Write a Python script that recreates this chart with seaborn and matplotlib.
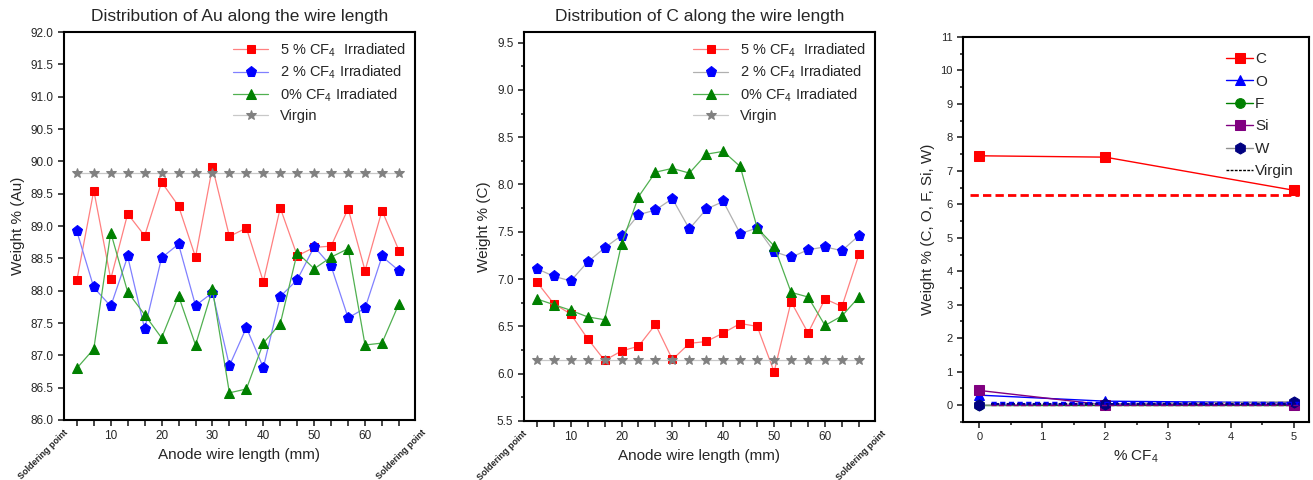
import numpy as np
import matplotlib
matplotlib.use("Agg")
import matplotlib.pyplot as plt
import seaborn as sns
from matplotlib.lines import Line2D
from matplotlib.ticker import MultipleLocator

# positions along the wire (mm)
length_mm = [3.33, 6.67, 10, 13.33, 16.67, 20, 23.33, 26.67, 30, 33.33,
             36.67, 40, 43.33, 46.67, 50, 53.33, 56.67, 60, 63.33, 66.67]

# Au weight %
au_5 = [88.16, 89.55, 88.18, 89.19, 88.85, 89.68, 89.31, 88.52, 89.91, 88.84,
        88.97, 88.14, 89.28, 88.54, 88.67, 88.69, 89.27, 88.31, 89.24, 88.62]
au_2 = [88.92, 88.05, 87.76, 88.53, 87.41, 88.51, 88.72, 87.77, 87.97, 86.84,
        87.43, 86.81, 87.91, 88.17, 88.68, 88.38, 87.58, 87.73, 88.53, 88.31]
au_0 = [86.80, 87.10, 88.90, 87.98, 87.63, 87.27, 87.92, 87.16, 88.02, 86.42,
        86.48, 87.19, 87.49, 88.59, 88.34, 88.52, 88.65, 87.16, 87.19, 87.80]
au_virgin = [89.82] * 20

# C weight %
c_5 = [6.97, 6.74, 6.63, 6.37, 6.14, 6.24, 6.29, 6.52, 6.15, 6.32,
       6.34, 6.43, 6.53, 6.50, 6.02, 6.76, 6.43, 6.79, 6.71, 7.26]
c_2 = [7.11, 7.03, 6.98, 7.18, 7.33, 7.46, 7.68, 7.73, 7.85, 7.53,
       7.74, 7.82, 7.48, 7.54, 7.29, 7.23, 7.31, 7.34, 7.30, 7.46]
c_0 = [6.79, 6.73, 6.67, 6.60, 6.57, 7.37, 7.87, 8.13, 8.17, 8.12,
       8.32, 8.35, 8.19, 7.54, 7.35, 6.86, 6.81, 6.51, 6.61, 6.81]
c_virgin = [6.14] * 20

# element weight % vs CF4 content
cf4 = [0, 2, 5]
el_C = [7.45, 7.41, 6.42]
el_O = [0.30, 0.12, 0.07]
el_F = [0.0, 0.0, 0.0]
el_Si = [0.44, 0.01, 0.02]
el_W = [0.0, 0.04, 0.10]
virgin_C = 6.27
virgin_O = 0.07
virgin_W = 0.05

sns.set_style("ticks")
plt.rcParams['font.family'] = ['Liberation Sans', 'DejaVu Sans']
plt.rcParams['mathtext.fontset'] = 'custom'
plt.rcParams['mathtext.rm'] = 'Liberation Sans'

fig = plt.figure(figsize=(13.13, 4.8), dpi=100)
ax1 = fig.add_axes([0.0487, 0.125, 0.2673, 0.808])
ax2 = fig.add_axes([0.399, 0.123, 0.2673, 0.810])
ax3 = fig.add_axes([0.7334, 0.121, 0.2635, 0.802])


def style_axis(ax, lsize=8.5):
    for s in ax.spines.values():
        s.set_linewidth(1.5)
        s.set_color('black')
    ax.tick_params(axis='both', direction='out', width=1.2, length=4,
                   labelsize=lsize, top=False, right=False)
    ax.tick_params(which='minor', direction='out', width=1.2, length=2.5)


def wire_panel(ax, s5, s2, s0, sv, line2, ylabel, title):
    sns.lineplot(x=length_mm, y=s5, ax=ax, color='#ff8080', lw=0.9, marker='s',
                 markersize=6, markerfacecolor='red', markeredgecolor='red',
                 label='5 % CF$_4$  Irradiated')
    sns.lineplot(x=length_mm, y=s2, ax=ax, color=line2, lw=0.9, marker='p',
                 markersize=8, markerfacecolor='blue', markeredgecolor='blue',
                 label='2 % CF$_4$ Irradiated')
    sns.lineplot(x=length_mm, y=s0, ax=ax, color='#50b050', lw=0.9, marker='^',
                 markersize=7, markerfacecolor='green', markeredgecolor='green',
                 label='0% CF$_4$ Irradiated')
    sns.lineplot(x=length_mm, y=sv, ax=ax, color='#c8c8c8', lw=0.9, marker='*',
                 markersize=7, markerfacecolor='gray', markeredgecolor='gray',
                 label='Virgin')
    ax.set_xlim(0.8, 69.8)
    ax.set_xticks(length_mm)
    lbls = []
    for x in length_mm:
        lbls.append(str(int(round(x))) if abs(x - round(x)) < 0.01 and round(x) % 10 == 0 else "")
    ax.set_xticklabels(lbls)
    ax.set_xlabel('Anode wire length (mm)', fontsize=11)
    ax.set_ylabel(ylabel, fontsize=11)
    ax.set_title(title, fontsize=12.5, pad=8)
    for xp in [0.6, 71]:
        ax.text(xp, -0.02, 'Soldering point', transform=ax.get_xaxis_transform(),
                rotation=45, ha='right', va='top', fontsize=6.5, fontweight='bold',
                rotation_mode='anchor')
    ax.legend(loc='upper right', frameon=False, fontsize=10.5, handlelength=2.4,
              borderaxespad=0.2, labelspacing=0.35)
    style_axis(ax)


wire_panel(ax1, au_5, au_2, au_0, au_virgin, '#8080ff', 'Weight % (Au)',
           'Distribution of Au along the wire length')
ax1.set_ylim(86, 92)
ax1.yaxis.set_major_locator(MultipleLocator(0.5))
ax1.yaxis.set_major_formatter(matplotlib.ticker.FormatStrFormatter('%.1f'))

wire_panel(ax2, c_5, c_2, c_0, c_virgin, '#b0b0b0', 'Weight % (C)',
           'Distribution of C along the wire length')
ax2.set_ylim(5.5, 9.61)
ax2.yaxis.set_major_locator(MultipleLocator(0.5))
ax2.yaxis.set_minor_locator(MultipleLocator(0.25))
ax2.yaxis.set_major_formatter(matplotlib.ticker.FormatStrFormatter('%.1f'))

# right panel
sns.lineplot(x=cf4, y=el_C, ax=ax3, color='red', lw=1, marker='s', markersize=7,
             markerfacecolor='red', markeredgecolor='red', label='C')
sns.lineplot(x=cf4, y=el_O, ax=ax3, color='blue', lw=1, marker='^', markersize=7,
             markerfacecolor='blue', markeredgecolor='blue', label='O')
sns.lineplot(x=cf4, y=el_F, ax=ax3, color='green', lw=1, marker='o', markersize=7,
             markerfacecolor='green', markeredgecolor='green', label='F')
sns.lineplot(x=cf4, y=el_Si, ax=ax3, color='purple', lw=1, marker='s', markersize=7,
             markerfacecolor='purple', markeredgecolor='purple', label='Si')
sns.lineplot(x=cf4, y=el_W, ax=ax3, color='#909090', lw=1, marker='h', markersize=8,
             markerfacecolor='navy', markeredgecolor='navy', label='W')
ax3.axhline(virgin_C, xmin=0.02, xmax=0.97, color='red', ls=(0, (3, 1.5)), lw=2)
ax3.axhline(virgin_O, xmin=0.08, xmax=0.97, color='blue', ls=(0, (1.5, 1)), lw=2.5)
ax3.axhline(virgin_W, xmin=0.08, xmax=0.97, color='navy', ls=(0, (1.5, 1)), lw=1.5)
ax3.axhline(0, xmin=0.08, xmax=0.97, color='purple', ls='--', lw=1)

handles, labels = ax3.get_legend_handles_labels()
handles.append(Line2D([], [], color='black', ls=(0, (2, 1)), lw=1))
labels.append('Virgin')
ax3.legend(handles, labels, loc='upper right', frameon=False, fontsize=11,
           handlelength=1.8, handletextpad=0.1, labelspacing=0.55,
           borderaxespad=0.6)
ax3.set_xlim(-0.26, 5.24)
ax3.set_ylim(-0.5, 11)
ax3.xaxis.set_major_locator(MultipleLocator(1))
ax3.xaxis.set_minor_locator(MultipleLocator(0.5))
ax3.yaxis.set_major_locator(MultipleLocator(1))
ax3.yaxis.set_minor_locator(MultipleLocator(0.5))
ax3.set_xlabel('% CF$_4$', fontsize=11)
ax3.set_ylabel('Weight % (C, O, F, Si, W)', fontsize=11)
style_axis(ax3, lsize=8)

fig.savefig('out.png', dpi=100)
